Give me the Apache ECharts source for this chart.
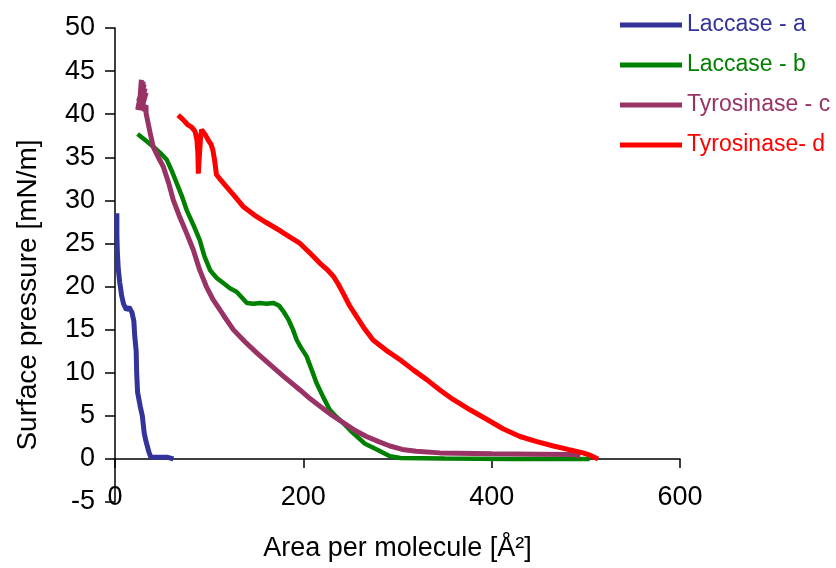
<!DOCTYPE html>
<html>
<head>
<meta charset="utf-8">
<script src="https://cdn.jsdelivr.net/npm/echarts@6/dist/echarts.min.js"></script>
<style>html,body{margin:0;padding:0;background:#fff}#c{width:836px;height:568px}</style>
</head>
<body>
<div id="c"></div>
<script>
var seriesNames = ['Laccase - a', 'Laccase - b', 'Tyrosinase - c', 'Tyrosinase- d'];
var seriesColors = ['#333399', '#008000', '#993366', '#ff0000'];
var xTicks = [0, 200, 400, 600];
var yTicks = [-5, 0, 5, 10, 15, 20, 25, 30, 35, 40, 45, 50];

var laccaseA = [[2,28.5],[2,26],[2.5,24],[3.5,22],[5,20.5],[7,19],[9,18],[12,17.3],[15,17.6],[18,17],[20,16],[21,14.2],[22.5,12.5],[23,10],[24,7.7],[27,6],[29,5],[31,3],[33,2],[36,0.8],[38,0.2],[45,0.2],[55,0.2],[62,0]];
var laccaseB = [[24,37.7],[32,37],[41,36.2],[50,35.3],[55,34.7],[60,33.5],[65.5,32],[71,30.5],[76,28.9],[83,27.2],[90,25.4],[95,23.5],[101,21.9],[108,21],[115,20.4],[122,19.8],[129,19.4],[135,18.7],[140,18.1],[147,18],[154,18.1],[161,18],[168,18.1],[174,17.8],[179,17.1],[184,16.2],[189,15],[193,13.8],[197,13],[203.5,11.9],[209,10.3],[214,8.8],[221,7.2],[228,5.7],[235,4.9],[242,4.2],[250,3.3],[257,2.6],[265,1.8],[278,1.1],[292,0.3],[303,0.1],[350,0.05],[420,0],[504,0]];
var tyrosinaseC = [[28,44],[26,41],[30,43.8],[24,40.5],[31,43.5],[25,41.5],[32,43],[26,40.5],[33,42.5],[28,40.5],[33,41],[33,40.1],[37,38],[40.6,36.2],[46,35],[51.3,33.9],[57,32],[62,30],[69,28],[76,26.2],[83,24.3],[90,21.9],[97,20],[104,18.5],[115,16.7],[125.6,15],[138,13.6],[150.5,12.3],[165,10.9],[178.7,9.6],[196.5,8],[207,7],[217.7,6.1],[230,5.1],[242.4,4.2],[255,3.3],[267,2.6],[280,2],[292,1.5],[305,1.1],[320,0.9],[345,0.7],[400,0.6],[450,0.55],[487,0.5],[494,0.3]];
var tyrosinaseD = [[67,39.9],[72,39.4],[77,38.8],[81.4,38.5],[85,38],[87,37],[88,35.5],[88.5,33.1],[89.5,35],[91,37.5],[92,38.2],[94,38],[96,37.6],[99,37],[102,36.5],[104,35.8],[106,34.5],[107.7,33],[112,32.4],[118.3,31.6],[127,30.5],[136,29.3],[148,28.3],[161,27.4],[175,26.5],[185,25.8],[196.5,25],[207,23.9],[217.7,22.7],[225,22],[231.8,21.2],[237,20.3],[242.4,19.2],[249,17.8],[256.6,16.5],[265,15.1],[274,13.8],[288,12.6],[302.7,11.5],[317,10.3],[331,9.2],[345,8],[359,6.9],[377,5.7],[394.7,4.6],[412,3.5],[430,2.6],[448,2],[465.5,1.5],[481,1.1],[497,0.7],[505,0.4],[513,0]];
var allData = [laccaseA, laccaseB, tyrosinaseC, tyrosinaseD];

var FONT = 'Liberation Sans, Arial, sans-serif';
var chart = echarts.init(document.getElementById('c'), null, {renderer: 'canvas'});
var series = seriesNames.map(function (n, i) {
  return {
    name: n, type: 'line', data: allData[i], showSymbol: false, symbol: 'none',
    lineStyle: {color: seriesColors[i], width: i === 1 ? 4.5 : 5},
    itemStyle: {color: seriesColors[i]}, z: 2 + i, animation: false
  };
});
chart.setOption({
  animation: false,
  grid: {left: 115, right: 156, top: 28, bottom: 66, containLabel: false, outerBoundsMode: 'none'},
  xAxis: {
    type: 'value', min: xTicks[0], max: xTicks[xTicks.length - 1], interval: 200,
    axisLine: {onZero: true, lineStyle: {color: '#000', width: 1.5}},
    axisTick: {show: true, inside: false, length: 9, lineStyle: {color: '#000', width: 1.5}},
    axisLabel: {margin: -18, fontFamily: FONT, fontSize: 27, color: '#000'},
    splitLine: {show: false},
    name: 'Area per molecule [Å²]', nameLocation: 'middle', nameGap: 33,
    nameTextStyle: {fontFamily: FONT, fontSize: 27, color: '#000'}
  },
  yAxis: {
    type: 'value', min: yTicks[0], max: yTicks[yTicks.length - 1], interval: 5,
    axisLine: {show: true, onZero: false, lineStyle: {color: '#000', width: 1.5}},
    axisTick: {show: true, inside: false, length: 10, lineStyle: {color: '#000', width: 1.5}},
    axisLabel: {margin: 20, fontFamily: FONT, fontSize: 27, color: '#000'},
    splitLine: {show: false}
  },
  legend: {
    orient: 'vertical', left: 620, top: 12, padding: 0, itemWidth: 62, itemHeight: 5, itemGap: 14,
    icon: 'rect',
    textStyle: {fontFamily: FONT, fontSize: 23, lineHeight: 26},
    data: seriesNames.map(function (n, i) { return {name: n, textStyle: {color: seriesColors[i]}}; })
  },
  graphic: [{
    type: 'text', x: 28, y: 295, rotation: Math.PI / 2,
    style: {text: 'Surface pressure [mN/m]', font: '28px ' + FONT, fill: '#000', textAlign: 'center', textVerticalAlign: 'middle'}
  }],
  series: series
});
</script>
</body>
</html>
